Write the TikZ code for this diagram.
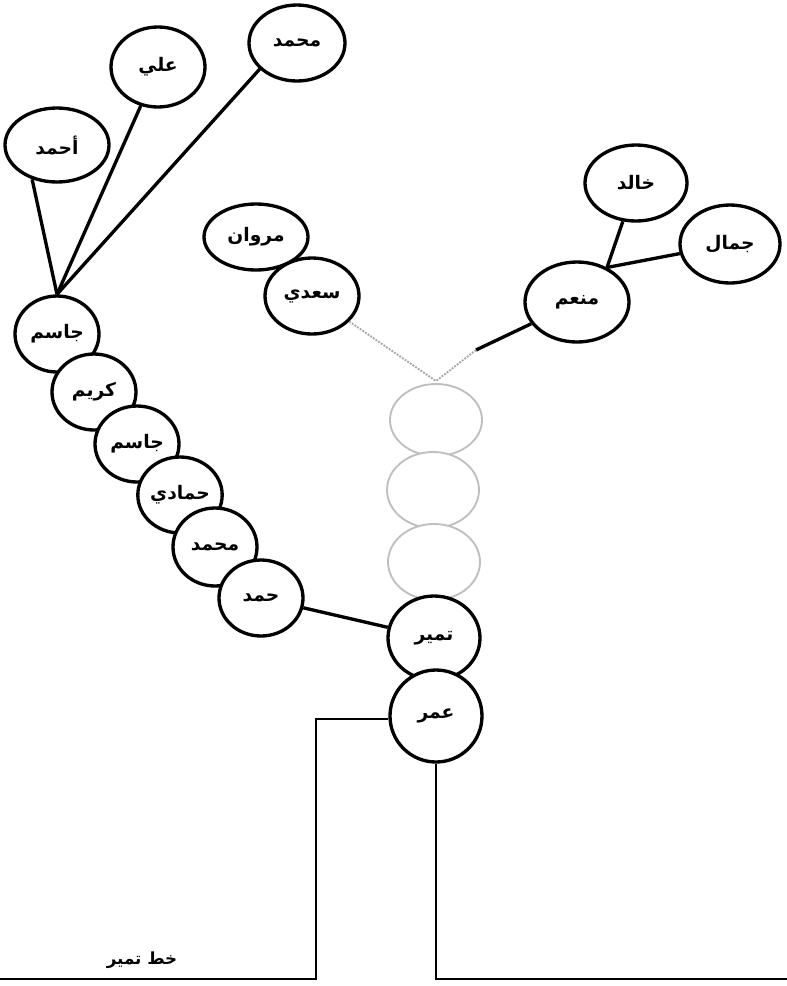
\documentclass[tikz,border=0pt]{standalone}
\usepackage{fontspec}
\usetikzlibrary{shapes.geometric}
\newfontfamily\arabicfont[Script=Arabic]{DejaVu Sans}
\TeXXeTstate=1
\newcommand{\rtl}[1]{\beginR#1\endR}

\begin{document}
\begin{tikzpicture}[x=0.75pt,y=-0.75pt,
  person/.style={ellipse,draw,line width=2.5pt,fill=white,inner sep=0pt,
                 font=\arabicfont\bfseries\fontsize{14}{16}\selectfont},
  faded/.style={person,draw=black!25,line width=1.4pt},
  sz/.style 2 args={minimum width=#1*0.75pt,minimum height=#2*0.75pt},
  link/.style={line width=2.5pt},
  trace/.style={line width=1.4pt,black!35,densely dotted},
  base/.style={line width=2pt}]
  \useasboundingbox (0,0) rectangle (787,986);
  % top left sons
  \node[person,sz={96}{76}] (muhammadA) at (297,43) {\rtl{محمد}};
  \node[person,sz={94}{80}] (ali) at (158,67) {\rtl{علي}};
  \node[person,sz={104}{74}] (ahmad) at (57,145) {\rtl{أحمد}};
  % middle branch
  \node[person,sz={104}{66}] (marwan) at (256,237) {\rtl{مروان}};
  \node[person,sz={94}{76}] (saadi) at (312,296) {\rtl{سعدي}};
  % right branch
  \node[person,sz={102}{76}] (khalid) at (636,183) {\rtl{خالد}};
  \node[person,sz={100}{78}] (jamal) at (730,244) {\rtl{جمال}};
  \node[person,sz={104}{80}] (munim) at (577,302) {\rtl{منعم}};
  % left chain
  \node[person,sz={84}{76}] (jasimA) at (57,334) {\rtl{جاسم}};
  \node[person,sz={84}{76}] (karim) at (94,392) {\rtl{كريم}};
  \node[person,sz={84}{76}] (jasimB) at (137,444) {\rtl{جاسم}};
  \node[person,sz={84}{76}] (hamadi) at (180,495) {\rtl{حمادي}};
  \node[person,sz={84}{78}] (muhammadB) at (215,547) {\rtl{محمد}};
  \node[person,sz={84}{76}] (hamad) at (261,598) {\rtl{حمد}};
  % trunk
  \node[faded,sz={92}{72}] (fadeA) at (436,420) {};
  \node[faded,sz={92}{76}] (fadeB) at (433,490) {};
  \node[faded,sz={92}{76}] (fadeC) at (434,562) {};
  \node[person,sz={92}{84}] (tamir) at (434,638) {\rtl{تمير}};
  \node[person,sz={92}{92}] (omar) at (436,716) {\rtl{عمر}};

  \coordinate (meet) at (436,381);
  \coordinate (fork) at (munim.49);
  \coordinate (bend) at (476,350);
  \coordinate (corner) at (316,719);
  \coordinate (leftend) at (0,979);
  \coordinate (rightend) at (787,979);

  % connectors
  \draw[link] (ahmad.234) -- (jasimA.north);
  \draw[link] (ali) -- (jasimA.north);
  \draw[link] (muhammadA.215) -- (jasimA.north);
  \draw[link] (hamad) -- (tamir);
  \draw[link] (fork) -- (khalid);
  \draw[link] (fork) -- (jamal);
  \draw[link] (munim) -- (bend);
  \draw[trace] (bend) -- (meet);
  \draw[trace] (saadi) -- (meet);

  % base line
  \draw[base] (omar.west |- corner) -- (corner) -- (corner |- leftend) -- (leftend);
  \draw[base] (omar.south) -- (omar.south |- rightend) -- (rightend);
  \node[font=\arabicfont\bfseries\fontsize{12.5}{14}\selectfont] (line) at (142,960) {\rtl{خط تمير}};
\end{tikzpicture}
\end{document}
